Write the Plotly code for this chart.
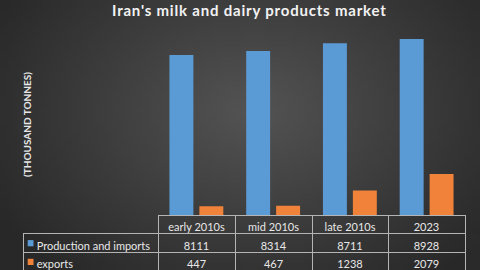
import base64, struct, zlib
import numpy as np
import plotly.graph_objects as go

categories = ["early 2010s", "mid 2010s", "late 2010s", "2023"]
production = [8111, 8314, 8711, 8928]
exports = [447, 467, 1238, 2079]
series_names = ["Production and imports", "exports"]
title_text = "Iran's milk and dairy products market"
ytitle_text = "(THOUSAND TONNES)"

BLUE = "#5b9bd5"
ORANGE = "#f0823a"
TXT = "#e8e8e8"
LINE = "#b4b4b4"

# radial gradient background as PNG
W, H = 96, 54
yy, xx = np.mgrid[0:H, 0:W]
cx, cy = W * 0.52, H * 0.40
d = np.sqrt(((xx - cx) / W) ** 2 + ((yy - cy) / H) ** 2 * 0.6)
t = np.clip(d / 0.62, 0, 1)
v = (84 * (1 - t) + 40 * t).astype(np.uint8)
raw = b"".join(b"\x00" + bytes(np.stack([row, row, row], axis=1).flatten()) for row in v)
def chunk(tag, data):
    return struct.pack(">I", len(data)) + tag + data + struct.pack(">I", zlib.crc32(tag + data) & 0xffffffff)
png = b"\x89PNG\r\n\x1a\n" + chunk(b"IHDR", struct.pack(">IIBBBBB", W, H, 8, 2, 0, 0, 0)) + \
      chunk(b"IDAT", zlib.compress(raw)) + chunk(b"IEND", b"")
uri = "data:image/png;base64," + base64.b64encode(png).decode()

fig = go.Figure()
fig.add_trace(go.Bar(x=categories, y=production, name=series_names[0], marker_color=BLUE,
                     marker_line_width=0, showlegend=False))
fig.add_trace(go.Bar(x=categories, y=exports, name=series_names[1], marker_color=ORANGE,
                     marker_line_width=0, showlegend=False))

font_fam = "Lato, Open Sans, sans-serif"
NB = "\u00a0"
fig.add_trace(go.Table(
    domain=dict(x=[23 / 480, 465 / 480], y=[0, 1 - 215 / 270]),
    columnwidth=[135, 77, 77, 76, 77],
    header=dict(
        values=[""] + [c.replace(" ", NB) for c in categories],
        height=18.5,
        fill_color="rgba(0,0,0,0)",
        line=dict(color=["rgba(0,0,0,0)"] + [LINE] * 4, width=1),
        font=dict(family=font_fam, size=11, color=TXT),
        align="center",
    ),
    cells=dict(
        values=[[NB * 2 + s.replace(" ", NB) for s in series_names]]
               + [[str(p), str(e)] for p, e in zip(production, exports)],
        height=18.5,
        fill_color="rgba(0,0,0,0)",
        line=dict(color=LINE, width=1),
        font=dict(family=font_fam, size=11, color=TXT),
        align=["left", "center", "center", "center", "center"],
    ),
))

ann = [dict(text=f"<b>{ytitle_text}</b>", xref="paper", yref="paper",
            x=27 / 480, y=1 - 125 / 270, textangle=-90, showarrow=False,
            xanchor="center", yanchor="middle",
            font=dict(family=font_fam, size=10, color="#e6e6e6"))]
shapes = []
for i, c in enumerate([BLUE, ORANGE]):
    yc = 243.3 + 18.7 * i
    shapes.append(dict(type="rect", xref="paper", yref="paper", x0=27.7 / 480, x1=33.5 / 480,
                       y0=1 - (yc + 3) / 270, y1=1 - (yc - 3.2) / 270,
                       fillcolor=c, line_width=0))

fig.update_layout(
    width=480, height=270,
    margin=dict(l=0, r=0, t=0, b=0),
    paper_bgcolor="#2e2e2e",
    plot_bgcolor="rgba(0,0,0,0)",
    barmode="group",
    bargap=0.22, bargroupgap=0.2,
    images=[dict(source=uri, xref="paper", yref="paper", x=0, y=1, sizex=1, sizey=1,
                 sizing="stretch", layer="below", xanchor="left", yanchor="top")],
    xaxis=dict(domain=[158 / 480, 465 / 480], range=[-0.5, 3.5], showticklabels=False,
               showgrid=False, zeroline=False, showline=False, ticks=""),
    yaxis=dict(domain=[1 - 215 / 270, 1 - 17.8 / 270], range=[0, 10000], showticklabels=False,
               showgrid=False, zeroline=False, showline=False, ticks=""),
    title=dict(text=f"<b>{title_text}</b>", x=112 / 480, xanchor="left", y=1 - 11 / 270, yanchor="middle",
               font=dict(family=font_fam, size=15, color="#f2f2f2")),
    annotations=ann,
    shapes=shapes,
)

post = """
var t = document.querySelector('.gtitle');
if (t) { t.style.letterSpacing = '0.8px'; }
"""
fig.write_html("out.html", post_script=post)
